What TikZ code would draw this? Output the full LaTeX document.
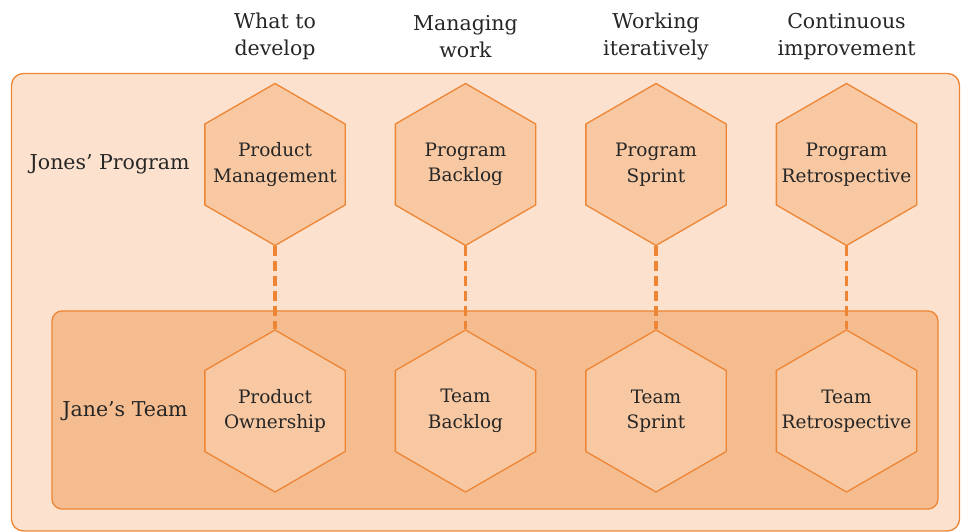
\documentclass[tikz,border=0pt]{standalone}
\usepackage{fontspec}
\setmainfont{DejaVu Serif}
\usetikzlibrary{shapes.geometric, positioning}

\definecolor{peach}{HTML}{FCE2CE}
\definecolor{apricot}{HTML}{F4BC8F}
\definecolor{hexfill}{HTML}{F7C8A2}
\definecolor{rim}{HTML}{EE8534}
\definecolor{ink}{HTML}{262626}

\begin{document}
\begin{tikzpicture}[
      x=1pt, y=1pt,
      every node/.style={text=ink, font=\fontsize{18.5}{25.5}\selectfont, align=center},
      heading/.style={font=\fontsize{20.5}{27.5}\selectfont},
      hexcell/.style={regular polygon, regular polygon sides=6, shape border rotate=30,
        draw=rim, line width=1.3pt, fill=hexfill, minimum size=162pt, inner sep=0pt},
      link/.style={draw=rim, line width=3.3pt, dash pattern=on 10pt off 5pt},
      node distance=246.5pt and 190.5pt, on grid
    ]
      \useasboundingbox (0,0) rectangle (961,532);

      % program and team areas
      \draw[rim, fill=peach, line width=1.3pt, rounded corners=12pt]
        (11.5,1) rectangle (959.5,458.5);
      \draw[rim, fill=apricot, line width=1.3pt, rounded corners=10pt]
        (52,23) rectangle (938,221);

      \node[hexcell, label=center:{Product\\Management}] (pm) at (275,367.5) {};
      \node[hexcell, right=of pm, label=center:{Program\\Backlog}] (pb) {};
      \node[hexcell, right=of pb, label=center:{Program\\Sprint}] (ps) {};
      \node[hexcell, right=of ps, label=center:{Program\\Retrospective}] (pr) {};

      \node[hexcell, below=of pm, label=center:{Product\\Ownership}] (po) {};
      \node[hexcell, below=of pb, label=center:{Team\\Backlog}] (tb) {};
      \node[hexcell, below=of ps, label=center:{Team\\Sprint}] (ts) {};
      \node[hexcell, below=of pr, label=center:{Team\\Retrospective}] (tr) {};

      \node[heading, above=128pt of pm] (h1) {What to\\develop};
      \node[heading, above=128pt of pb] (h2) {Managing\\work};
      \node[heading, above=128pt of ps] (h3) {Working\\iteratively};
      \node[heading, above=128pt of pr] (h4) {Continuous\\improvement};

      \node[heading, on grid=false, left=11pt of pm] (jones) {Jones’ Program};
      \node[heading, on grid=false, left=13pt of po] (jane) {Jane’s Team};

      \draw[link] (pm.south) -- (po.north);
      \draw[link] (pb.south) -- (tb.north);
      \draw[link] (ps.south) -- (ts.north);
      \draw[link] (pr.south) -- (tr.north);
    \end{tikzpicture}
\end{document}
